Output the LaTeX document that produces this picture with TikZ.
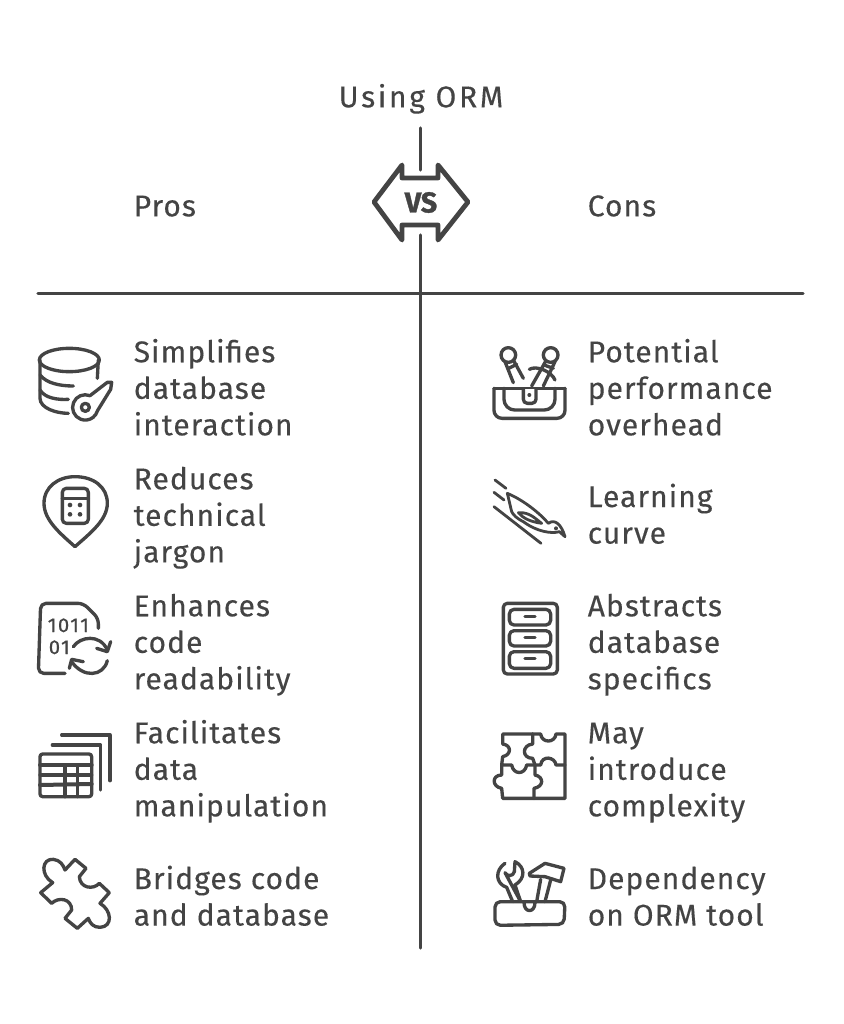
\documentclass[tikz,border=0pt]{standalone}
\usepackage{fontspec}
\setmainfont{Fira Sans}[LetterSpace=3.5,FakeBold=0.25]
\newfontfamily\titlefont{Fira Sans}[LetterSpace=9,FakeBold=0.25]
\newfontfamily\binfont{Fira Sans}[LetterSpace=8,FakeBold=0.8]
\newfontfamily\vsfont{Fira Sans}[FakeBold=1.2]
\definecolor{ink}{HTML}{444444}
\tikzset{
  lab/.style={anchor=west,inner sep=0pt,align=left,text=ink,font=\fontsize{22.5}{27.4}\selectfont},
  rule/.style={draw=ink,line width=2.3pt,line cap=round},
  ic/.style={draw=ink,line width=2.5pt,line cap=round,line join=round},
  icthin/.style={draw=ink,line width=2.1pt,line cap=round,line join=round},
  zoomed/.style={x=0.25pt,y=-0.25pt},
}
\begin{document}
\begin{tikzpicture}[x=0.75pt,y=-0.75pt]
\path[fill=white] (0,0) rectangle (843,1024);
\useasboundingbox (0,0) rectangle (843,1024);

% headings
\node[lab,anchor=center,font=\fontsize{22.5}{27.4}\titlefont] (title) at (421,100) {\strut Using ORM\strut};
\node[lab] (pros) at (133.5,209) {\strut Pros\strut};
\node[lab] (cons) at (587.5,209) {\strut Cons\strut};

% axes
\coordinate (vtop) at (420.5,128);
\coordinate (vgapa) at (420.5,170);
\coordinate (vgapb) at (420.5,235);
\coordinate (vbot) at (420.5,948);
\coordinate (hl) at (38,293.5);
\coordinate (hr) at (803,293.5);
\draw[rule] (vtop) -- (vgapa);
\draw[rule] (vgapb) -- (vbot);
\draw[rule] (hl) -- (hr);

% VS badge
\draw[draw=ink,line width=3.6pt,line join=round]
  (374,202) -- (402,165) -- (402,178) -- (438,178) -- (438,165) -- (468,202)
  -- (438,240) -- (438,225) -- (402,225) -- (402,240) -- cycle;
\node[inner sep=0pt,text=ink,font=\fontsize{21.5}{22}\vsfont\bfseries] (vs) at (421,202.5) {VS};

% Pros text
\node[lab] (p1) at (133.5,391.5) {\strut Simplifies\\database\\interaction\strut};
\node[lab] (p2) at (133.5,518.5) {\strut Reduces\\technical\\jargon\strut};
\node[lab] (p3) at (133.5,645.5) {\strut Enhances\\code\\readability\strut};
\node[lab] (p4) at (133.5,772.5) {\strut Facilitates\\data\\manipulation\strut};
\node[lab] (p5) at (133.5,900) {\strut Bridges code\\and database\strut};
% Cons text
\node[lab] (c1) at (587.5,391.5) {\strut Potential\\performance\\overhead\strut};
\node[lab] (c2) at (587.5,518) {\strut Learning\\curve\strut};
\node[lab] (c3) at (587.5,645.5) {\strut Abstracts\\database\\specifics\strut};
\node[lab] (c4) at (587.5,772.5) {\strut May\\introduce\\complexity\strut};
\node[lab] (c5) at (587.5,900) {\strut Dependency\\on ORM tool\strut};

% icon: database + key
\begin{scope}[zoomed,shift={(60,990)}]
\draw[ic] (148,90) ellipse (90 and 35);
\draw[ic] (60,90) -- (60,205) .. controls (60,235) and (110,250) .. (145,250);
\draw[ic] (60,135) .. controls (80,160) and (120,168) .. (160,168);
\draw[ic] (60,180) .. controls (75,205) and (115,210) .. (145,208);
\draw[ic] (235,90) -- (232,145);
\draw[ic] (210,197) arc[start angle=-68,end angle=-345,radius=38] -- (272,178) -- (275,157) -- (262,157) -- cycle;
\draw[ic] (196,232) circle (12);
\end{scope}

% icon: pin + calculator
\begin{scope}[zoomed,shift={(60,990)}]
\draw[ic] (165,650) .. controls (120,610) and (72,570) .. (72,520) .. controls (72,470) and (115,440) .. (165,440)
  .. controls (220,440) and (262,470) .. (262,520) .. controls (262,570) and (210,610) .. (165,650) -- cycle;
\draw[ic,rounded corners=3pt] (127,475) rectangle (205,580);
\draw[ic] (127,505) -- (205,505);
\foreach \a/\b in {150/525,180/525,150/553,180/553} \fill[ink] (\a,\b) circle (7);
\end{scope}

% icon: binary document
\begin{scope}[zoomed,shift={(60,1770)}]
\draw[ic,rounded corners=4pt] (135,250) -- (55,250) -- (62,40) -- (190,40) -- (235,85) -- (235,115);
\node[inner sep=0pt,text=ink,font=\fontsize{15}{15}\binfont] (bina) at (145,106) {1011};
\node[inner sep=0pt,text=ink,font=\fontsize{15}{15}\binfont] (binb) at (118,172) {01};
\draw[ic] (160,170) .. controls (180,140) and (240,130) .. (262,180);
\draw[ic] (230,175) -- (262,185) -- (272,155);
\draw[ic] (262,212) .. controls (250,260) and (190,265) .. (155,215);
\draw[ic] (148,235) -- (155,208) -- (190,215);
\end{scope}

% icon: table stack
\begin{scope}[zoomed,shift={(60,1770)}]
\draw[ic,rounded corners=2pt] (60,492) rectangle (215,620);
\draw[ic,line width=3pt] (60,525) -- (215,525);
\draw[ic] (60,555) -- (215,555);
\draw[ic,line width=3pt] (60,585) -- (215,582);
\draw[ic] (135,525) -- (135,620);
\draw[ic] (172,525) -- (172,620);
\draw[ic] (97,465) -- (242,465) -- (242,600);
\draw[ic] (125,435) -- (270,435) -- (270,572);
\end{scope}

% icon: single puzzle piece
\begin{scope}[zoomed,shift={(60,1770)}]
\draw[ic] (62,908) -- (98,878) .. controls (60,855) and (65,805) .. (100,808) .. controls (120,810) and (130,825) .. (135,840)
  -- (165,808) -- (198,835) -- (178,860) .. controls (180,895) and (220,900) .. (238,880)
  -- (268,908) -- (240,940) .. controls (275,960) and (280,1010) .. (240,1012) .. controls (220,1012) and (210,1000) .. (205,985)
  -- (172,1015) -- (135,985) -- (155,960) .. controls (155,925) and (115,920) .. (95,940) -- cycle;
\end{scope}

% icon: holster with daggers
\begin{scope}[zoomed,shift={(1440,990)}]
\draw[ic] (85,75) circle (22);
\draw[ic] (75,95) -- (100,158);
\draw[ic] (100,90) -- (130,145);
\draw[ic] (86,115) -- (110,103);
\draw[ic] (212,75) circle (22);
\draw[ic] (198,92) -- (155,168);
\draw[ic] (225,95) -- (190,168);
\draw[ic] (192,105) -- (220,115);
\draw[ic] (148,118) .. controls (170,105) and (215,125) .. (225,150);
\draw[ic,rounded corners=6pt] (42,175) -- (42,265) -- (255,265) -- (255,175);
\draw[ic] (42,175) -- (255,175);
\draw[ic,rounded corners=8pt] (72,175) -- (72,240) -- (225,240) -- (225,175);
\fill[white] (130,178) rectangle (168,220);
\draw[ic,rounded corners=3pt] (130,178) -- (130,220) -- (168,220) -- (168,178);
\fill[ink] (148,195) circle (6);
\end{scope}

% icon: diving bird
\begin{scope}[zoomed,shift={(1440,990)}]
\draw[icthin] (45,450) -- (78,475);
\draw[icthin] (42,487) -- (72,510);
\draw[icthin] (42,530) -- (183,640);
\draw[icthin] (82,490) .. controls (130,510) and (180,550) .. (205,580) .. controls (225,565) and (245,585) .. (255,620) -- (238,605)
  .. controls (215,612) and (170,605) .. (130,575) .. controls (110,565) and (100,555) .. (95,545) -- cycle;
\draw[icthin] (115,548) .. controls (150,545) and (170,570) .. (185,580) .. controls (150,575) and (130,565) .. (115,548);
\fill[ink] (228,595) circle (6);
\end{scope}

% icon: filing cabinet
\begin{scope}[zoomed,shift={(1440,1770)}]
\draw[ic,rounded corners=3pt] (70,40) rectangle (232,252);
\foreach \a/\b/\c in {58/105/80,122/168/142,185/235/205}{
  \draw[ic,rounded corners=3.5pt] (88,\a) rectangle (212,\b);
  \draw[ic] (135,\c) -- (165,\c);
}
\end{scope}

% icon: four-piece puzzle
\begin{scope}[zoomed,shift={(1440,1770)}]
\draw[ic] (158,432) -- (68,432) -- (68,462) .. controls (95,465) and (95,495) .. (68,500) -- (65,525) -- (95,525)
  .. controls (100,555) and (135,555) .. (140,525) -- (165,525) -- (182,525) .. controls (185,495) and (225,500) .. (228,525) -- (255,525);
\draw[ic] (158,432) -- (182,432) .. controls (185,460) and (225,460) .. (228,432) -- (255,432) -- (255,625) -- (68,625) -- (65,595)
  .. controls (35,590) and (35,555) .. (65,555) -- (65,525);
\draw[ic] (158,432) -- (158,462) .. controls (125,465) and (125,505) .. (158,505) -- (165,525) -- (165,555)
  .. controls (192,560) and (192,590) .. (162,595) -- (162,625);
\end{scope}

% icon: toolbox
\begin{scope}[zoomed,shift={(1440,1770)}]
\draw[ic,rounded corners=4pt] (45,935) -- (255,935) -- (252,1003) -- (45,1006) -- cycle;
\draw[ic] (132,937) .. controls (132,970) and (165,970) .. (165,937);
\draw[ic] (75,820) .. controls (45,840) and (45,880) .. (80,892) -- (98,935);
\draw[ic] (122,935) -- (105,885) .. controls (138,865) and (135,830) .. (105,815) -- (103,845) .. controls (100,860) and (80,860) .. (75,848) -- cycle;
\draw[ic] (170,935) -- (182,868);
\draw[ic] (195,935) -- (212,870);
\draw[ic] (148,850) -- (195,820) -- (252,835) -- (242,875) -- (195,860) -- (150,858) -- cycle;
\end{scope}
\end{tikzpicture}
\end{document}
